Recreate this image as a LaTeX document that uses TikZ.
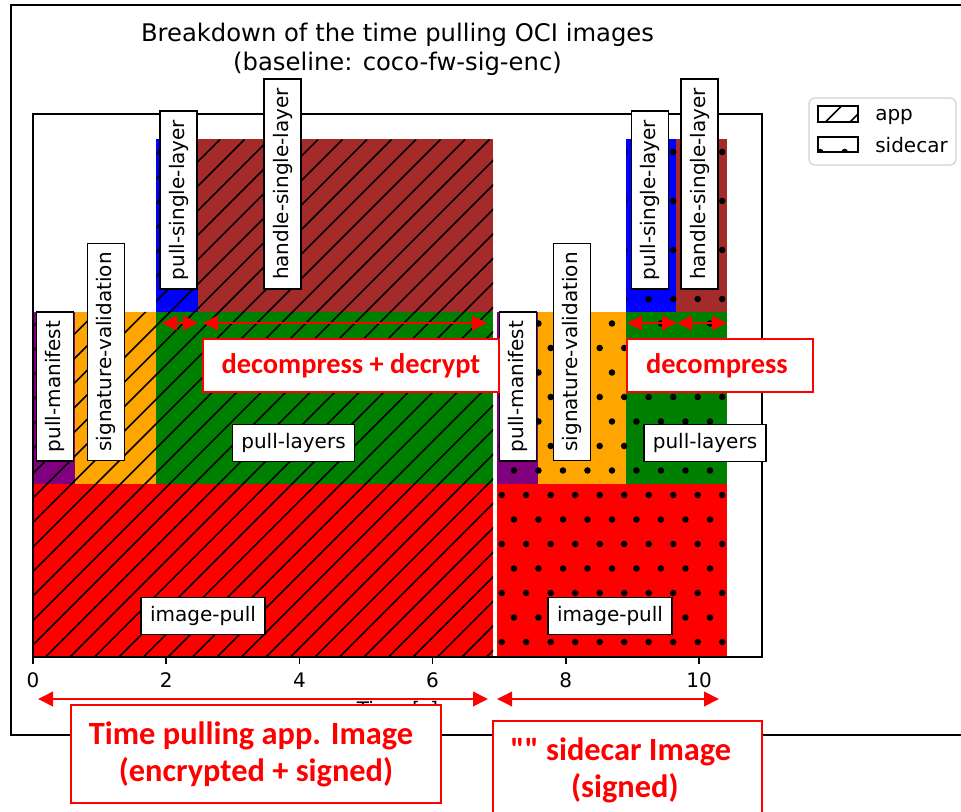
\documentclass[tikz,border=0pt]{standalone}
\usepackage{fontspec}
\setmainfont{DejaVu Sans}
\newfontfamily\calloutfont{Carlito}
\usetikzlibrary{arrows.meta}

\definecolor{mplpurple}{RGB}{128,0,128}
\definecolor{mplorange}{RGB}{255,165,0}
\definecolor{mplgreen}{RGB}{0,128,0}
\definecolor{mplblue}{RGB}{0,0,255}
\definecolor{mplbrown}{RGB}{165,42,42}
\definecolor{mplred}{RGB}{255,0,0}
\definecolor{calloutred}{RGB}{255,0,0}
\definecolor{legendedge}{RGB}{210,210,210}

\begin{document}
\begin{tikzpicture}[x=0.75pt,y=-0.75pt,
  barlabel/.style={draw=black, fill=white, line width=1.2pt, text=black,
    font=\fontsize{15}{18}\selectfont, inner xsep=6.75pt, inner ysep=0pt,
    minimum height=27.75pt},
  vlabel/.style={barlabel, rotate=90},
  callout/.style={draw=calloutred, fill=white, line width=1.5pt, text=calloutred,
    align=center, inner sep=0pt},
  bigcallout/.style={callout, font=\calloutfont\bfseries\fontsize{24.3}{27.75}\selectfont},
  smallcallout/.style={callout, font=\calloutfont\bfseries\fontsize{21.3}{25}\selectfont},
  spanarrow/.style={draw=calloutred, line width=1pt,
    {Triangle[length=11.25pt,width=11pt]}-{Triangle[length=11.25pt,width=11pt]}},
  toparrow/.style={draw=calloutred, line width=1pt,
    {Triangle[length=11.25pt,width=11pt]}-{Triangle[length=11.25pt,width=11pt]}},
  hatchline/.style={black, line width=1.1pt},
  hatchdot/.style={black},
  axisfont/.style={font=\fontsize{15}{18}\selectfont},
  titlefont/.style={font=\fontsize{18.2}{21}\selectfont},
]
\useasboundingbox (0,0) rectangle (961,812);
\fill[white] (0,0) rectangle (961,812);

% outer figure frame (right edge lies beyond the page)
\draw[black, line width=1.5pt] (975,5) -- (11,5) -- (11,735) -- (975,735);

% title
\node[titlefont, anchor=base, inner sep=0pt] (title1) at (397.5,41.7) {Breakdown of the time pulling OCI images};
\node[titlefont, anchor=base, inner sep=0pt] (title2) at (397.5,70.7) {(baseline: coco-fw-sig-enc)};

% ---- app bars ----
\fill[mplred]    (33,657)    rectangle (493,484.5);
\fill[mplpurple] (33,484.5)  rectangle (75,312);
\fill[mplorange] (75,484.5)  rectangle (156,312);
\fill[mplgreen]  (156,484.5) rectangle (493,312);
\fill[mplblue]   (156,312)   rectangle (198,139.5);
\fill[mplbrown]  (198,312)   rectangle (493,139.5);
\begin{scope}
  \clip (33,657) -- (493,657) -- (493,139.5) -- (156,139.5) -- (156,312) -- (33,312) -- cycle;
  \foreach \m in {6,...,47} {
    \pgfmathsetmacro\c{16.5+24.5*\m}
    \draw[hatchline] ({\c-657},657) -- ({\c-139.5},139.5);
  }
\end{scope}

% ---- sidecar bars ----
\fill[mplred]    (497,657)   rectangle (727,484.5);
\fill[mplpurple] (497,484.5) rectangle (538,312);
\fill[mplorange] (538,484.5) rectangle (626,312);
\fill[mplgreen]  (626,484.5) rectangle (727,312);
\fill[mplblue]   (626,312)   rectangle (676,139.5);
\fill[mplbrown]  (676,312)   rectangle (727,139.5);
\begin{scope}
  \clip (497,657) -- (727,657) -- (727,139.5) -- (626,139.5) -- (626,312) -- (497,312) -- cycle;
  \foreach \n in {-7,...,15} {
    \pgfmathsetmacro\yy{495-24.5*\n}
    \pgfmathsetmacro\off{mod(abs(\n),2)*12.25}
    \foreach \k in {-1,...,10} {
      \fill[hatchdot] ({501.7+24.5*\k+\off},\yy) circle[radius=2.45pt];
    }
  }
\end{scope}

% axes frame and ticks
\draw[black, line width=1.2pt] (33,114) rectangle (762,657);
\foreach \v/\lab in {0/0,1/2,2/4,3/6,4/8,5/10} {
  \draw[black, line width=1.2pt] ({33+133.2*\v},657) -- ({33+133.2*\v},664);
  \node[axisfont, anchor=base, inner sep=0pt] (tick\lab) at ({33+133.2*\v},687) {\lab};
}
\node[axisfont, anchor=base, inner sep=0pt] (xlabel) at (397.5,716.6) {Time [s]};

% bar labels: app
\node[vlabel]   (appmanifest) at (55,386.5)  {pull-manifest};
\node[vlabel]   (appsig)      at (106,352)   {signature-validation};
\node[vlabel]   (apppsl)      at (178.5,200) {pull-single-layer};
\node[vlabel]   (apphsl)      at (282.5,184) {handle-single-layer};
\node[barlabel] (applayers)   at (293.5,443) {pull-layers};
\node[barlabel] (apppull)     at (203,616)   {image-pull};

% bar labels: sidecar
\node[vlabel]   (scmanifest)  at (518,386.5) {pull-manifest};
\node[vlabel]   (scsig)       at (572,352)   {signature-validation};
\node[vlabel]   (scpsl)       at (650,200)   {pull-single-layer};
\node[vlabel]   (schsl)       at (699.5,184) {handle-single-layer};
\node[barlabel] (sclayers)    at (705,443)   {pull-layers};
\node[barlabel] (scpull)      at (610,616)   {image-pull};

% legend
\draw[legendedge, line width=0.9pt, rounded corners=4.5pt, fill=white] (809,98) rectangle (956,165);
\fill[white] (818,106) rectangle (858,122);
\begin{scope}
  \clip (818,106) rectangle (858,122);
  \foreach \m in {36,...,40} {
    \pgfmathsetmacro\c{16.5+24.5*\m}
    \draw[hatchline] ({\c-122},122) -- ({\c-106},106);
  }
\end{scope}
\draw[black, line width=1.1pt] (818,106) rectangle (858,122);
\fill[white] (818,137) rectangle (858,152);
\begin{scope}
  \clip (818,137) rectangle (858,152);
  \foreach \xx in {820.2,844.7} {
    \fill[hatchdot] (\xx,152) circle[radius=2.45pt];
  }
\end{scope}
\draw[black, line width=1.1pt] (818,137) rectangle (858,152);
\node[axisfont, anchor=base west, inner sep=0pt] (legapp) at (875,120.5) {app};
\node[axisfont, anchor=base west, inner sep=0pt] (legsc)  at (875,152.5) {sidecar};

% span arrows over the layer bars
\coordinate (a1l) at (162,323);
\coordinate (a1r) at (198,323);
\coordinate (a2l) at (203,323);
\coordinate (a2r) at (487,323);
\coordinate (s1l) at (627,323);
\coordinate (s1r) at (677,323);
\coordinate (s2l) at (677,323);
\coordinate (s2r) at (727,323);
\draw[toparrow] (a1l) -- (a1r);
\draw[toparrow] (a2l) -- (a2r);
\draw[toparrow] (s1l) -- (s1r);
\draw[toparrow] (s2l) -- (s2r);

% span arrows under the axis
\coordinate (appL) at (38,699);
\coordinate (appR) at (488,699);
\coordinate (scL)  at (497,699);
\coordinate (scR)  at (719,699);
\draw[spanarrow] (appL) -- (appR);
\draw[spanarrow] (scL) -- (scR);

% callouts
\node[smallcallout, minimum width=222pt, minimum height=39.75pt] (deccrypt) at (351,365.5) {decompress + decrypt};
\node[smallcallout, minimum width=139.5pt, minimum height=39.75pt] (decomp) at (720,365.5) {decompress\hspace*{4.5pt}};
\node[bigcallout, minimum width=277.5pt, minimum height=73.5pt] (apptime) at (256,754) {Time pulling app. Image\hspace*{7.5pt}\\(encrypted + signed)};
\node[bigcallout, minimum width=201.75pt, minimum height=74.25pt] (sctime) at (627.5,770.5) {"" sidecar Image\hspace*{10pt}\\(signed)\hspace*{4pt}};
\end{tikzpicture}
\end{document}
